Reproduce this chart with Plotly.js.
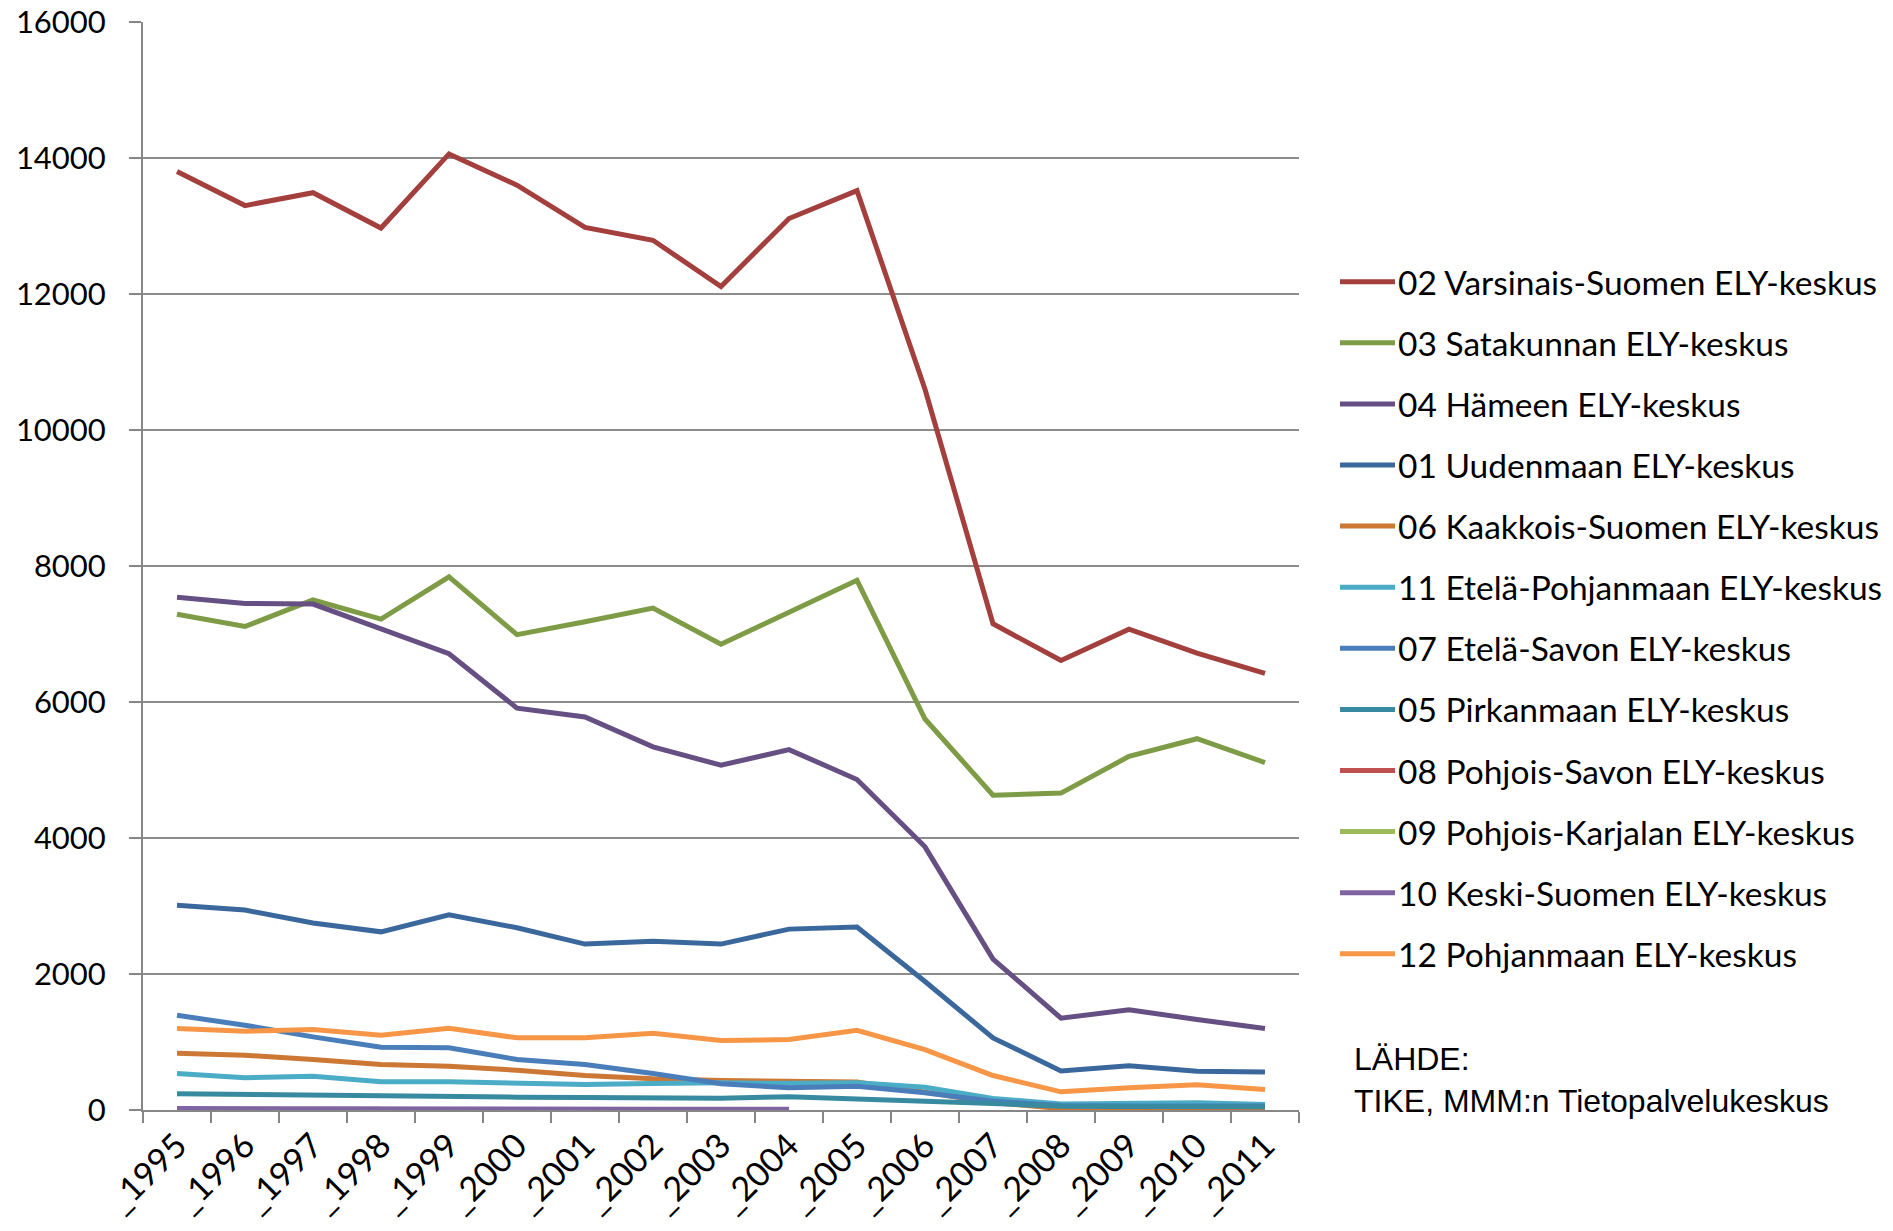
<!DOCTYPE html>
<html><head><meta charset="utf-8">
<script src="https://cdn.plot.ly/plotly-3.0.1.min.js"></script>
<style>body{margin:0;background:#fff}#chart{width:1893px;height:1231px}</style>
</head><body><div id="chart"></div>
<script>
// Category labels (x axis)
const yearLabels = ["_1995","_1996","_1997","_1998","_1999","_2000","_2001","_2002","_2003","_2004","_2005","_2006","_2007","_2008","_2009","_2010","_2011"];

// Series values
const s02 = [13800,13300,13490,12970,14060,13600,12980,12790,12110,13110,13520,10600,7150,6610,7070,6720,6420];
const s03 = [7290,7110,7500,7220,7840,6990,7180,7380,6850,7310,7790,5750,4630,4660,5200,5460,5110];
const s04 = [7540,7450,7440,7080,6710,5910,5780,5340,5070,5300,4860,3870,2220,1350,1475,1330,1200];
const s01 = [3010,2940,2750,2620,2870,2680,2440,2480,2440,2660,2690,1890,1060,575,650,570,560];
const s06 = [835,805,742,668,644,585,507,458,433,423,410,260,110,20,15,15,15];
const s11 = [536,473,497,414,414,400,375,389,400,392,400,335,170,90,106,106,80];
const s07 = [1393,1246,1075,923,914,742,668,536,385,326,350,253,129,66,60,60,58];
const s05 = [238,228,218,194,194,189,184,179,174,194,169,130,95,56,50,50,48];
const s08 = [10,10,10,10,null,null,null,null,null,null,null,null,null,null,null,null,null];
const s09 = [8,8,8,null,null,null,null,null,null,null,null,null,null,null,null,null,null];
const s10 = [22,18,15,20,17,15,12,10,10,12,null,null,null,null,null,null,null];
const s12 = [1197,1158,1183,1099,1202,1061,1061,1129,1021,1036,1173,889,507,267,326,370,301];

const seriesNames = ["02 Varsinais-Suomen ELY-keskus","03 Satakunnan ELY-keskus","04 Hämeen ELY-keskus","01 Uudenmaan ELY-keskus","06 Kaakkois-Suomen ELY-keskus","11 Etelä-Pohjanmaan ELY-keskus","07 Etelä-Savon ELY-keskus","05 Pirkanmaan ELY-keskus","08 Pohjois-Savon ELY-keskus","09 Pohjois-Karjalan ELY-keskus","10 Keski-Suomen ELY-keskus","12 Pohjanmaan ELY-keskus"];
const seriesValues = [s02,s03,s04,s01,s06,s11,s07,s05,s08,s09,s10,s12];
const seriesColors = ["#A33F3C","#7E9B45","#664F83","#3B689C","#CC7733","#4BACC6","#4A7EBB","#378A9F","#C0504D","#9BBB59","#8064A2","#F79646"];

const yTicks = [0,2000,4000,6000,8000,10000,12000,14000,16000];
const sourceText = "LÄHDE:<br>TIKE, MMM:n Tietopalvelukeskus";

// layout geometry (pixels)
const W = 1893, H = 1231;
const mL = 143, mR = 594, mT = 22, mB = 121;
const plotW = W - mL - mR, plotH = H - mT - mB;
const px2x = p => (p - mL) / plotW;
const py2y = p => (H - mB - p) / plotH;

const traces = seriesValues.map((vals, i) => ({
  type: "scatter", mode: "lines", x: yearLabels, y: vals, name: seriesNames[i],
  line: {color: seriesColors[i], width: 5}, connectgaps: false, showlegend: false,
  hoverinfo: "x+y+name"
}));

const shapes = [], annotations = [];
seriesNames.forEach((nm, i) => {
  const yp = py2y(281.7 + 61.1 * i);
  shapes.push({type: "line", xref: "paper", yref: "paper", x0: px2x(1340), x1: px2x(1395), y0: yp, y1: yp,
    line: {color: seriesColors[i], width: 5}});
  annotations.push({xref: "paper", yref: "paper", x: px2x(1396), y: yp, xanchor: "left", yanchor: "middle",
    text: nm, showarrow: false, font: {family: "Lato, 'Open Sans', sans-serif", size: 33.5, color: "#000"}});
});
annotations.push({xref: "paper", yref: "paper", x: px2x(1352), y: py2y(1080), xanchor: "left", yanchor: "middle",
  align: "left", text: sourceText, showarrow: false,
  font: {family: "'Liberation Sans', Arial, sans-serif", size: 32, color: "#000"}});

const layout = {
  width: W, height: H,
  margin: {l: mL, r: mR, t: mT, b: mB, pad: 0},
  paper_bgcolor: "#fff", plot_bgcolor: "#fff",
  showlegend: false,
  xaxis: {
    type: "category", categoryorder: "array", categoryarray: yearLabels,
    range: [-0.5, yearLabels.length - 0.5],
    showline: true, linecolor: "#868686", linewidth: 2,
    ticks: "outside", tickson: "boundaries", ticklen: 11, tickwidth: 2, tickcolor: "#868686",
    tickangle: -45, showgrid: false, zeroline: false, ticklabelstandoff: 0,
    tickfont: {family: "Lato, 'Open Sans', sans-serif", size: 34, color: "#000"}
  },
  yaxis: {
    range: [0, 16000], tickvals: yTicks, ticktext: yTicks.map(String),
    showline: true, linecolor: "#868686", linewidth: 2,
    ticks: "outside", ticklen: 12, tickwidth: 2, tickcolor: "#868686",
    showgrid: true, gridcolor: "#8C8C8C", gridwidth: 1.6, zeroline: false,
    ticklabelstandoff: 17,
    tickfont: {family: "Lato, 'Open Sans', sans-serif", size: 31, color: "#000"}
  },
  shapes: shapes,
  annotations: annotations
};

Plotly.newPlot("chart", traces, layout, {displayModeBar: false, staticPlot: true});
</script>
</body></html>
